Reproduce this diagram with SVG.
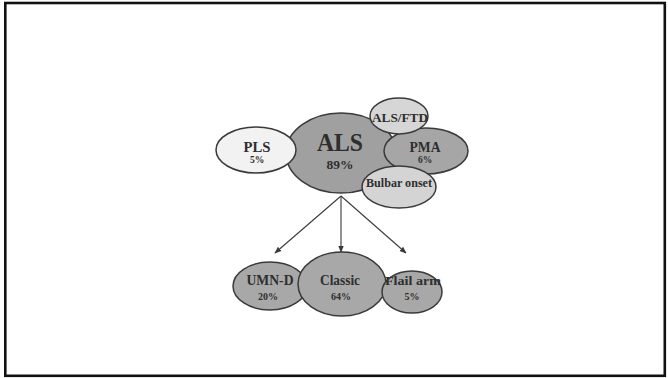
<svg xmlns="http://www.w3.org/2000/svg" width="668" height="378" viewBox="0 0 668 378">
<defs>
<style>
.n{stroke:#3a3a3a;stroke-width:1.5}
.t{font-family:"Liberation Serif","Times New Roman",serif;font-weight:bold;fill:#2e2e2e;text-anchor:middle}
.c{stroke:#3a3a3a;stroke-width:1.1;fill:none}
</style>
<marker id="ah" viewBox="0 0 10 10" refX="9" refY="5" markerWidth="7" markerHeight="7" orient="auto" markerUnits="userSpaceOnUse">
<path d="M0,1 L10,5 L0,9 Z" fill="#3a3a3a"/>
</marker>
</defs>
<rect x="0" y="0" width="668" height="378" fill="#fff"/>
<rect x="5.3" y="3" width="659.5" height="372.8" fill="none" stroke="#111" stroke-width="2.6"/>
<g id="connectors">
<line class="c" x1="341" y1="196" x2="275" y2="253" marker-end="url(#ah)"/>
<line class="c" x1="341" y1="196" x2="341" y2="252" marker-end="url(#ah)"/>
<line class="c" x1="341" y1="196" x2="406" y2="253" marker-end="url(#ah)"/>
</g>
<g id="als">
<ellipse class="n" cx="341" cy="153" rx="55" ry="40" fill="#a0a0a0"/>
<text class="t" x="340" y="151" font-size="26" textLength="46" lengthAdjust="spacingAndGlyphs">ALS</text>
<text class="t" x="340" y="169" font-size="13.5">89%</text>
</g>
<g id="pls">
<ellipse class="n" cx="256" cy="150" rx="40" ry="23" fill="#f2f2f2"/>
<text class="t" x="257" y="152" font-size="15" textLength="27" lengthAdjust="spacingAndGlyphs">PLS</text>
<text class="t" x="257" y="163" font-size="9.5">5%</text>
</g>
<g id="pma">
<ellipse class="n" cx="426" cy="151" rx="42" ry="23" fill="#a6a6a6"/>
<text class="t" x="425" y="152" font-size="15" textLength="31" lengthAdjust="spacingAndGlyphs">PMA</text>
<text class="t" x="425" y="163" font-size="9.5">6%</text>
</g>
<g id="alsftd">
<ellipse class="n" cx="399" cy="116" rx="29" ry="18" fill="#d6d6d6"/>
<text class="t" x="400" y="122" font-size="13" textLength="56" lengthAdjust="spacingAndGlyphs">ALS/FTD</text>
</g>
<g id="bulbar">
<ellipse class="n" cx="399" cy="187" rx="37" ry="21" fill="#d4d4d4"/>
<text class="t" x="399" y="187" font-size="12.5" textLength="66" lengthAdjust="spacingAndGlyphs">Bulbar onset</text>
</g>
<g id="umnd">
<ellipse class="n" cx="270" cy="286" rx="37" ry="24" fill="#a8a8a8"/>
<text class="t" x="270" y="285" font-size="15" textLength="47" lengthAdjust="spacingAndGlyphs">UMN-D</text>
<text class="t" x="268" y="300" font-size="10">20%</text>
</g>
<g id="classic">
<ellipse class="n" cx="342" cy="284" rx="44" ry="32" fill="#a8a8a8"/>
<text class="t" x="340" y="285" font-size="15" textLength="40" lengthAdjust="spacingAndGlyphs">Classic</text>
<text class="t" x="341" y="300" font-size="10">64%</text>
</g>
<g id="flail">
<ellipse class="n" cx="412" cy="292" rx="30" ry="21" fill="#a8a8a8"/>
<text class="t" x="413" y="285" font-size="13.5" textLength="56" lengthAdjust="spacingAndGlyphs">Flail arm</text>
<text class="t" x="412" y="300" font-size="10">5%</text>
</g>
</svg>
